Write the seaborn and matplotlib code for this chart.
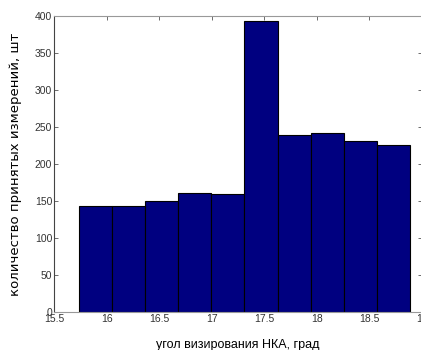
import matplotlib
matplotlib.use("Agg")
import matplotlib.pyplot as plt
import seaborn as sns
import pandas as pd

# Histogram of accepted measurements by satellite viewing angle
bin_centers = [15.894, 16.209, 16.524, 16.839, 17.154, 17.469, 17.784, 18.099, 18.414, 18.729]
counts = [144, 144, 150, 161, 159, 393, 239, 242, 231, 226]
bin_start = 15.736
bin_width = 0.315

x_ticks = [15.5, 16, 16.5, 17, 17.5, 18, 18.5, 19]
x_tick_labels = ["15.5", "16", "16.5", "17", "17.5", "18", "18.5", "19"]
y_ticks = [0, 50, 100, 150, 200, 250, 300, 350, 400]

xlabel = "угол визирования НКА, град"
ylabel = "количество принятых измерений, шт"

sns.set_theme(style="white")
plt.rcParams["font.family"] = ["Liberation Sans Narrow", "Liberation Sans", "DejaVu Sans"]

df = pd.DataFrame({"angle": bin_centers, "n": counts})

fig = plt.figure(figsize=(4.21, 3.5), dpi=100)
ax = fig.add_axes([0.129, 0.1086, 0.873, 0.845])

sns.histplot(data=df, x="angle", weights="n", binwidth=bin_width,
             binrange=(bin_start, bin_start + bin_width * len(counts)),
             color="#000080", alpha=1.0, edgecolor="black", linewidth=0.8, ax=ax)

ax.set_xlim(15.5, 19)
ax.set_ylim(0, 400)
ax.set_xticks(x_ticks)
ax.set_xticklabels(x_tick_labels)
ax.set_yticks(y_ticks)
ax.tick_params(direction="in", length=3, width=0.6, color="#555555",
               labelsize=7.5, labelcolor="#333333", pad=1.5,
               top=True, right=True, bottom=True, left=True)
for name, s in ax.spines.items():
    s.set_visible(True)
    s.set_color("#444444" if name == "left" else "#999999")
    s.set_linewidth(0.8)

ax.set_xlabel(xlabel, fontsize=9, color="black", labelpad=10.5,
              family=["Liberation Sans", "DejaVu Sans"])
ax.set_ylabel(ylabel, fontsize=9.5, color="black", labelpad=9,
              family=["DejaVu Sans"])

fig.savefig("out.png", dpi=100)
